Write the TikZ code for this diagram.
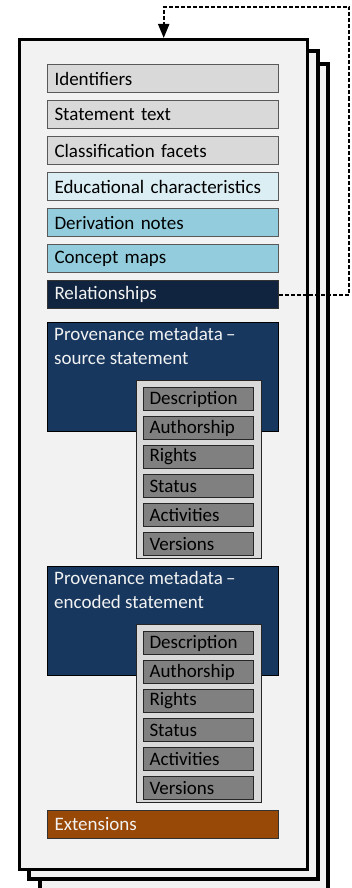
\documentclass[tikz,border=0pt]{standalone}
\usepackage{fontspec}
\setmainfont{Carlito}
\usetikzlibrary{arrows.meta}
\definecolor{pagefill}{HTML}{F2F2F2}
\definecolor{lgray}{HTML}{D9D9D9}
\definecolor{lcyan}{HTML}{DBEEF4}
\definecolor{mcyan}{HTML}{93CDDD}
\definecolor{navy}{HTML}{10243F}
\definecolor{provblue}{HTML}{17375E}
\definecolor{extbrown}{HTML}{984807}
\definecolor{itemgray}{HTML}{808080}
\definecolor{darkline}{HTML}{262626}
\definecolor{fieldline}{HTML}{595959}
\tikzset{
  pagebox/.style={draw=black, line width=3.4pt, fill=pagefill},
  field/.style={draw=fieldline, line width=1pt, minimum width=231pt, minimum height=28pt,
    text width=217pt, inner xsep=7pt, inner ysep=0pt, align=left, anchor=north west,
    font=\fontsize{19}{22}\selectfont},
  lightfield/.style={field, fill=#1, text=black},
  darkfield/.style={field, draw=black!80, fill=#1, text=pagefill},
  provbox/.style={draw=black, line width=1pt, fill=provblue, minimum width=231pt,
    minimum height=109pt, anchor=north west},
  provtext/.style={anchor=north west, text=pagefill, align=left, inner xsep=7pt, inner ysep=5pt,
    font=\fontsize{19}{24}\selectfont},
  holder/.style={draw=darkline, line width=1pt, fill=lgray, minimum width=125pt,
    minimum height=178pt, anchor=north west},
  item/.style={draw=darkline, line width=1pt, fill=itemgray, minimum width=110pt,
    minimum height=23pt, text width=98pt, inner xsep=6pt, inner ysep=0pt, align=left,
    anchor=north west, text=black, font=\fontsize{19}{22}\selectfont},
  link/.style={line width=2pt, dash pattern=on 4pt off 2pt,
    -{Triangle[width=11pt,length=14pt]}}
}
\begin{document}
\begin{tikzpicture}[x=1pt,y=-1pt]
\useasboundingbox (0,0) rectangle (351,888);
% stacked pages
\draw[pagebox] (40,64) rectangle (328,905);
\draw[pagebox] (29,51) rectangle (318,879);
\node[pagebox, minimum width=288pt, minimum height=830pt, anchor=north west, inner sep=0pt] (page) at (18,38) {};
% fields
\node[lightfield=lgray] (ident) at (47,64) {Identifiers};
\node[lightfield=lgray] (stext) at (47,100) {Statement text};
\node[lightfield=lgray] (facets) at (47,136) {Classification facets};
\node[lightfield=lcyan] (educ) at (47,172) {Educational characteristics};
\node[lightfield=mcyan] (deriv) at (47,208) {Derivation notes};
\node[lightfield=mcyan] (cmaps) at (47,244) {Concept maps};
\node[darkfield=navy] (rel) at (47,280) {Relationships};
% provenance source
\node[provbox] (prov1) at (47,322) {};
\node[provtext] (prov1t) at (prov1.north west) {Provenance metadata\,–\\source statement};
\node[holder] (hold1) at (136,380) {};
\node[item] (d1) at (143,387) {Description};
\node[item] (a1) at (143,416) {Authorship};
\node[item] (r1) at (143,445) {Rights};
\node[item] (s1) at (143,474) {Status};
\node[item] (ac1) at (143,503) {Activities};
\node[item] (v1) at (143,532) {Versions};
% provenance encoded
\node[provbox] (prov2) at (47,566) {};
\node[provtext] (prov2t) at (prov2.north west) {Provenance metadata\,–\\encoded statement};
\node[holder] (hold2) at (136,624) {};
\node[item] (d2) at (143,631) {Description};
\node[item] (a2) at (143,660) {Authorship};
\node[item] (r2) at (143,689) {Rights};
\node[item] (s2) at (143,718) {Status};
\node[item] (ac2) at (143,747) {Activities};
\node[item] (v2) at (143,776) {Versions};
% extensions
\node[darkfield=extbrown] (ext) at (47,810) {Extensions};
% self link
\coordinate (turn) at (349,7);
\draw[link] (rel.east) -| (turn) -| (page.north);
\end{tikzpicture}
\end{document}
